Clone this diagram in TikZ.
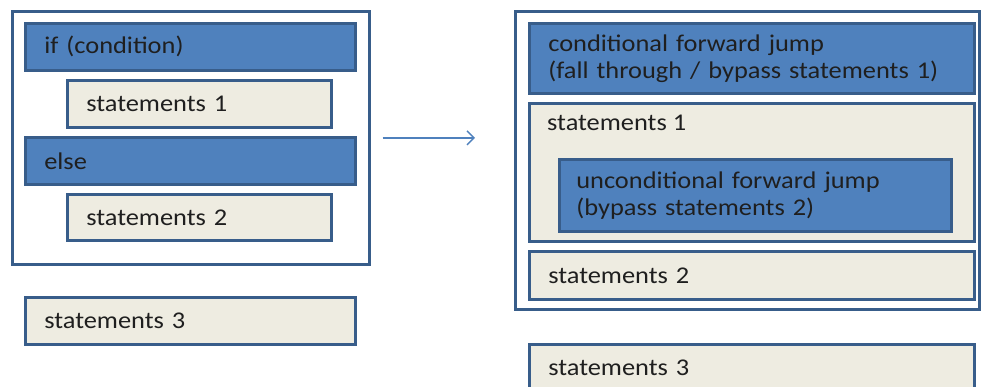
\documentclass[tikz,border=0pt]{standalone}
\usepackage{fontspec}
\setmainfont[FakeStretch=1.1]{Carlito}
\usetikzlibrary{arrows.meta}

\definecolor{jumpfill}{HTML}{4F81BD}
\definecolor{frameline}{HTML}{385D8A}
\definecolor{stmtfill}{HTML}{EEECE1}
\definecolor{labeltext}{HTML}{1F1F1F}

\tikzset{
  labelfont/.style={font=\fontsize{24}{27}\selectfont, text=labeltext},
  block/.style={draw=frameline, line width=2.6pt, anchor=north west,
    inner xsep=19pt, inner ysep=0pt, align=left, labelfont},
  jumpbox/.style={block, fill=jumpfill},
  stmtbox/.style={block, fill=stmtfill},
  framebox/.style={draw=frameline, line width=2.6pt, fill=white,
    anchor=north west, inner sep=0pt},
  flowarrow/.style={draw=jumpfill, line width=1.4pt,
    -{Straight Barb[length=7pt,width=14pt,line width=1.4pt]}},
}

\begin{document}
\begin{tikzpicture}[x=1pt,y=1pt]
  \clip (0,0) rectangle (982,-386);
  \fill[white] (0,0) rectangle (982,-386);

  % if / else form
  \node[framebox, minimum width=357pt, minimum height=253pt] (leftframe) at (11,-10) {};
  \node[jumpbox, text width=292pt, minimum height=47pt] (ifnode) at (24,-22) {if (condition)};
  \node[stmtbox, text width=226pt, minimum height=47pt] (lstmt1) at (66,-79) {statements 1};
  \node[jumpbox, text width=292pt, minimum height=47pt] (elsenode) at (24,-136) {else};
  \node[stmtbox, text width=226pt, minimum height=46pt] (lstmt2) at (66,-193) {statements 2};
  \node[stmtbox, text width=292pt, minimum height=47pt] (lstmt3) at (24,-296) {statements 3};

  % jump form
  \node[framebox, minimum width=464pt, minimum height=298pt] (rightframe) at (514,-10) {};
  \node[jumpbox, text width=407pt, minimum height=70pt] (condjump) at (528,-22)
    {conditional forward jump\\(fall through / bypass statements 1)};
  \node[stmtbox, minimum width=445pt, minimum height=138pt] (rstmt1) at (528,-102) {};
  \node[labelfont, anchor=base west, inner sep=0pt] (rstmt1label) at (547,-130) {statements 1};
  \node[jumpbox, text width=358pt, minimum height=72pt, inner xsep=17pt] (uncondjump) at (558,-158)
    {unconditional forward jump\\(bypass statements 2)};
  \node[stmtbox, text width=407pt, minimum height=48pt] (rstmt2) at (528,-250) {statements 2};
  \node[stmtbox, text width=407pt, minimum height=47pt] (rstmt3) at (528,-343) {statements 3};

  % transformation arrow
  \draw[flowarrow, shorten <=12pt, shorten >=39pt]
    (leftframe.east) -- (leftframe.east -| rightframe.west);
\end{tikzpicture}
\end{document}
